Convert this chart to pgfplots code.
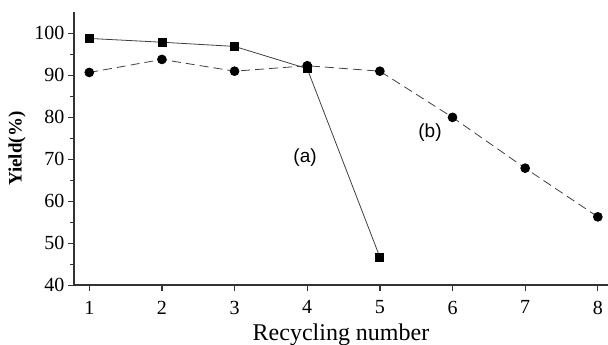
\documentclass[border=0pt]{standalone}
\usepackage{fontspec}
\setmainfont{Liberation Serif}
\newfontfamily\labelfont{Liberation Sans}
\usepackage{pgfplots}
\pgfplotsset{compat=1.18}
\begin{document}
\begin{tikzpicture}
\begin{axis}[
  name=ax,
  scale only axis,
  width=534pt, height=273.3pt,
  xmin=0.79, xmax=8.14,
  ymin=40, ymax=105.1,
  axis x line*=bottom, axis y line*=left,
  axis line style={line width=1.8pt, black!80, -},
  xtick={1,...,8},
  ytick={40,50,...,100},
  minor y tick num=1,
  tick align=outside,
  major tick length=6pt, minor tick length=4pt,
  tick style={line width=1.3pt, black!80},
  /pgf/number format/assume math mode=true,
  ticklabel style={font=\fontsize{20}{20}\selectfont},
  xticklabel style={yshift=-6pt},
  xlabel={Recycling number},
  ylabel={\textbf{Yield(\%)}},
  every axis x label/.style={at={(rel axis cs:0.5,0)}, yshift=-49pt, anchor=center, font=\fontsize{24}{24}\selectfont},
  every axis y label/.style={at={(rel axis cs:0,0.5)}, xshift=-57pt, rotate=90, anchor=center, font=\fontsize{19}{19}\selectfont},
  clip=false,
]
\addplot[black!75, line width=0.8pt, mark=square*, mark size=4pt, mark options={solid, fill=black, draw=black}]
coordinates {(1,98.8) (2,97.9) (3,96.9) (4,91.6) (5,46.7)};
\addplot[black!75, line width=0.8pt, dash pattern=on 9pt off 5pt, mark=*, mark size=4.4pt, mark options={solid, fill=black, draw=black}]
coordinates {(1,90.7) (2,93.8) (3,91.0) (4,92.3) (5,91.0) (6,80.0) (7,67.9) (8,56.3)};
\node[font=\labelfont\fontsize{19}{19}\selectfont] at (axis cs:3.97,70.5) {(a)};
\node[font=\labelfont\fontsize{19}{19}\selectfont] at (axis cs:5.69,76.4) {(b)};
\end{axis}
\pgfresetboundingbox
\path ([xshift=-74pt,yshift=-59pt]ax.south west) rectangle ([xshift=0pt,yshift=12pt]ax.north east);
\end{tikzpicture}
\end{document}
